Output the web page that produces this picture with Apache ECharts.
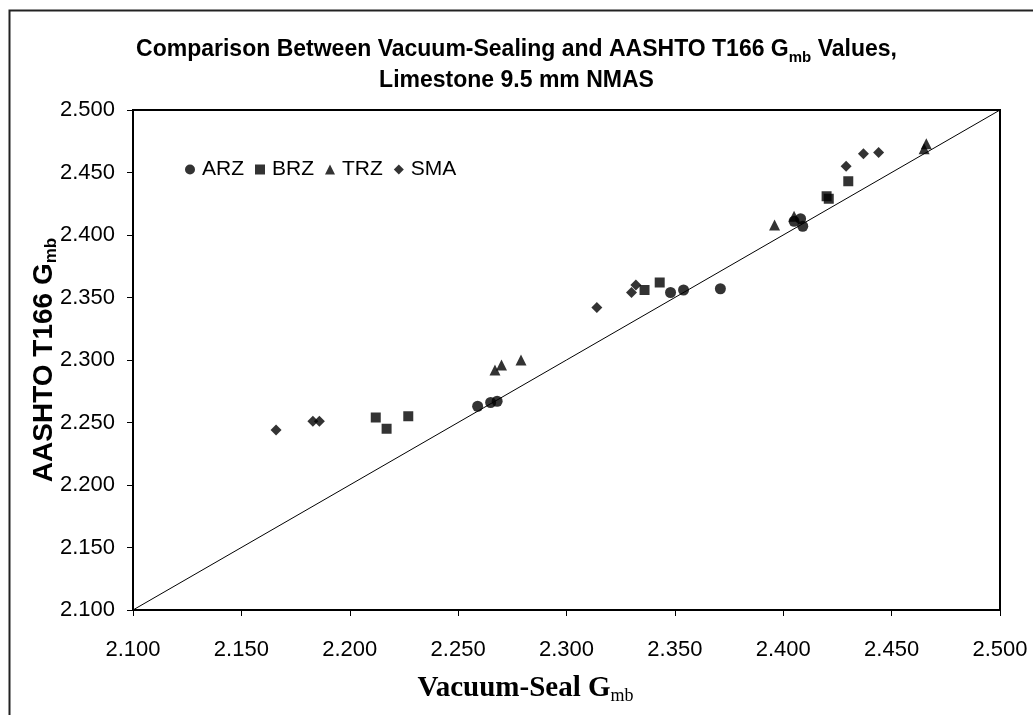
<!DOCTYPE html>
<html>
<head>
<meta charset="utf-8">
<title>Vacuum-Sealing vs AASHTO T166 Gmb</title>
<script src="https://cdn.jsdelivr.net/npm/echarts@6/dist/echarts.min.js"></script>
<style>
  html, body { margin: 0; padding: 0; background: #fff; }
  #chart { width: 1033px; height: 715px; }
</style>
</head>
<body>
<div id="chart"></div>
<script>
// values (Vacuum-Seal Gmb, AASHTO T166 Gmb)
const arzX = [2.259, 2.265, 2.268, 2.348, 2.354, 2.371, 2.405, 2.408, 2.409];
const arzY = [2.263, 2.266, 2.267, 2.354, 2.356, 2.357, 2.411, 2.413, 2.407];
const brzX = [2.212, 2.217, 2.227, 2.336, 2.343, 2.420, 2.421, 2.430];
const brzY = [2.254, 2.245, 2.255, 2.356, 2.362, 2.431, 2.429, 2.443];
const trzX = [2.267, 2.270, 2.279, 2.396, 2.405, 2.465, 2.466];
const trzY = [2.292, 2.296, 2.300, 2.408, 2.415, 2.469, 2.473];
const smaX = [2.166, 2.183, 2.186, 2.314, 2.330, 2.332, 2.429, 2.437, 2.444];
const smaY = [2.244, 2.251, 2.251, 2.342, 2.354, 2.360, 2.455, 2.465, 2.466];
// line of equality
const equalityLine = [2.094, 2.502];

const axisMin = 2.1;
const axisMax = 2.5;
const axisStep = 0.05;

const sans = '"Liberation Sans", Arial, sans-serif';
const serif = '"Liberation Serif", "Times New Roman", serif';

const zip = (xs, ys) => xs.map((x, i) => [x, ys[i]]);

const chart = echarts.init(document.getElementById('chart'));

// 散点系列
const pointSeries = (name, symbol, size, xs, ys) => ({
    name: name,
    type: 'scatter',
    symbol: symbol,
    symbolSize: size,
    itemStyle: { color: '#000' },
    emphasis: { disabled: true },
    data: zip(xs, ys),
    z: 3
});

chart.setOption({
    animation: false,
    title: {
        text: '{t|Comparison Between Vacuum-Sealing and AASHTO T166 G}{s|mb}{t| Values,}\n{t|Limestone 9.5 mm NMAS}',
        left: 'center',
        top: 29,
        textStyle: {
            rich: {
                t: { fontFamily: sans, fontWeight: 'bold', fontSize: 23, color: '#000', lineHeight: 31 },
                s: { fontFamily: sans, fontWeight: 'bold', fontSize: 15, color: '#000', lineHeight: 20, verticalAlign: 'bottom' }
            }
        }
    },
    legend: {
        data: ['ARZ', 'BRZ', 'TRZ', 'SMA'],
        left: 180,
        top: 154,
        itemWidth: 10,
        itemHeight: 10,
        itemGap: 11,
        selectedMode: false,
        textStyle: { fontFamily: sans, fontSize: 21, color: '#000', padding: [0, 0, 0, 2] }
    },
    grid: {
        left: 133,
        right: 33,
        top: 110,
        bottom: 105,
        show: true,
        borderColor: '#000',
        borderWidth: 2
    },
    xAxis: {
        type: 'value',
        min: axisMin,
        max: axisMax,
        interval: axisStep,
        name: '{t|Vacuum-Seal G}{s|mb}',
        nameLocation: 'middle',
        nameGap: 62,
        nameMoveOverlap: false,
        nameTextStyle: {
            padding: [0, 82, 0, 0],
            rich: {
                t: { fontFamily: serif, fontWeight: 'bold', fontSize: 29, color: '#000', lineHeight: 33 },
                s: { fontFamily: serif, fontSize: 18, color: '#000', lineHeight: 22, verticalAlign: 'bottom' }
            }
        },
        axisLine: { onZero: false, lineStyle: { color: '#000', width: 2 } },
        axisTick: { show: true, length: 6, lineStyle: { color: '#000', width: 1 } },
        axisLabel: {
            margin: 29,
            fontFamily: sans,
            fontSize: 22,
            color: '#000',
            formatter: v => v.toFixed(3)
        },
        splitLine: { show: false }
    },
    yAxis: {
        type: 'value',
        min: axisMin,
        max: axisMax,
        interval: axisStep,
        name: '{t|AASHTO T166 G}{s|mb}',
        nameLocation: 'middle',
        nameGap: 73,
        nameRotate: 90,
        nameMoveOverlap: false,
        nameTextStyle: {
            rich: {
                t: { fontFamily: sans, fontWeight: 'bold', fontSize: 28, color: '#000', lineHeight: 32 },
                s: { fontFamily: sans, fontWeight: 'bold', fontSize: 17, color: '#000', lineHeight: 21, verticalAlign: 'bottom' }
            }
        },
        axisLine: { onZero: false, lineStyle: { color: '#000', width: 2 } },
        axisTick: { show: true, length: 6, lineStyle: { color: '#000', width: 1 } },
        axisLabel: {
            margin: 18,
            fontFamily: sans,
            fontSize: 22,
            color: '#000',
            formatter: v => v.toFixed(3)
        },
        splitLine: { show: false }
    },
    graphic: [{
        // outer chart frame
        type: 'rect',
        left: 7,
        top: 8,
        shape: { width: 1100, height: 800 },
        style: { fill: 'none', stroke: '#222', lineWidth: 2 },
        silent: true
    }],
    series: [
        {
            name: 'equality',
            type: 'line',
            data: equalityLine.map(v => [v, v]),
            showSymbol: false,
            clip: false,
            lineStyle: { color: '#000', width: 1 },
            emphasis: { disabled: true },
            z: 2
        },
        pointSeries('ARZ', 'circle', 11, arzX, arzY),
        pointSeries('BRZ', 'rect', 10, brzX, brzY),
        pointSeries('TRZ', 'triangle', 11, trzX, trzY),
        pointSeries('SMA', 'diamond', 11, smaX, smaY)
    ]
});
</script>
</body>
</html>
